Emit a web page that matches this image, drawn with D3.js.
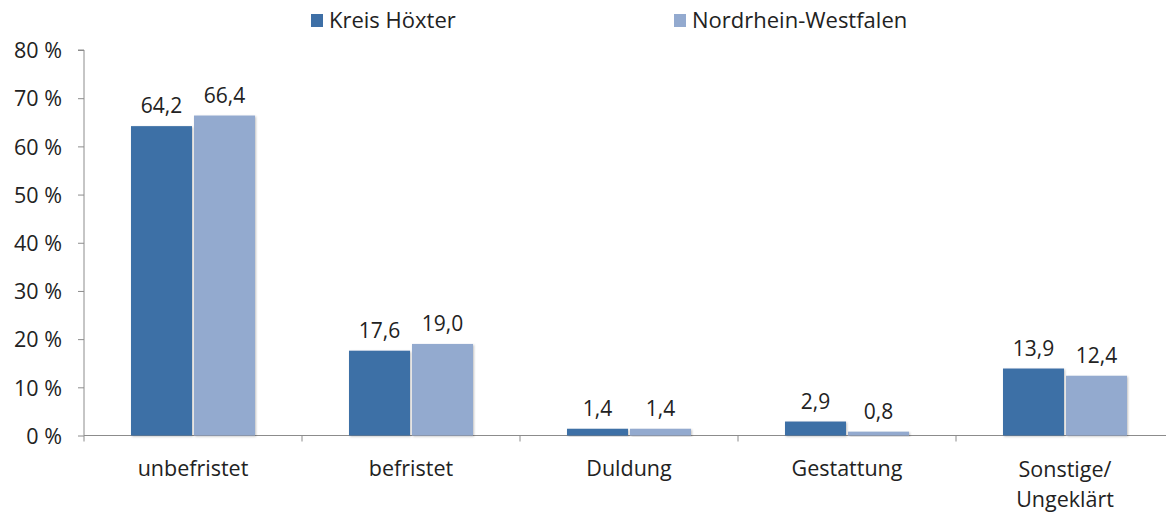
<!DOCTYPE html>
<html>
<head>
<meta charset="utf-8">
<script src="https://cdn.jsdelivr.net/npm/d3@7"></script>
<style>
  body { margin: 0; background: #fff; }
  text { font-family: "Open Sans", "Noto Sans", sans-serif; fill: #222; }
</style>
</head>
<body>
<script>
const categories = ["unbefristet", "befristet", "Duldung", "Gestattung", "Sonstige/\nUngeklärt"]
const seriesNames = ["Kreis Höxter", "Nordrhein-Westfalen"]
const hoexter = [64.2, 17.6, 1.4, 2.9, 13.9]
const nrw = [66.4, 19.0, 1.4, 0.8, 12.4]
const yTicks = [0, 10, 20, 30, 40, 50, 60, 70, 80]
const colors = ["#3E6FA6", "#93AACF"]

const W = 1166, H = 513
const padLeft = 84, padBottom = 435.5, padTop = 50
const catW = 218

const svg = d3.select("body").append("svg")
    .attr("width", W)
    .attr("height", H)

const x = d3.scaleBand().domain(categories).range([padLeft, padLeft + catW * categories.length]).padding(0)
const y = d3.scaleLinear().domain([0, 80]).range([padBottom, padTop])

// y axis
const yAxis = d3.axisLeft(y).tickValues(yTicks).tickSize(6).tickFormat(d => d + " %")
const gy = svg.append("g").attr("transform", "translate(" + padLeft + ",0)").call(yAxis)
gy.select(".domain").attr("stroke", "#8c8c8c").attr("d", "M-6," + padTop + "H0V" + padBottom)
gy.selectAll(".tick line").attr("stroke", "#8c8c8c")
gy.selectAll(".tick text").attr("x", -22).attr("dy", "0.36em").style("font-size", "21.5px").attr("fill", "#222")

// x axis line + boundary ticks
svg.append("line")
    .attr("x1", padLeft).attr("x2", W)
    .attr("y1", padBottom).attr("y2", padBottom)
    .attr("stroke", "#8c8c8c")
svg.selectAll(".xtick")
    .data(categories.concat([null]))
    .enter().append("line")
    .attr("x1", (d, i) => padLeft + i * catW)
    .attr("x2", (d, i) => padLeft + i * catW)
    .attr("y1", padBottom).attr("y2", padBottom + 6)
    .attr("stroke", "#8c8c8c")

const bw = 61
const series = [hoexter, nrw]
const center = c => x(c) + x.bandwidth() / 2

const defs = svg.append("defs")
const f = defs.append("filter").attr("id", "sh").attr("x", "-10%").attr("y", "-10%").attr("width", "130%").attr("height", "130%")
f.append("feDropShadow").attr("dx", 1).attr("dy", 1).attr("stdDeviation", 1.2).attr("flood-color", "#000").attr("flood-opacity", 0.25)

series.forEach((vals, s) => {
    const g = svg.append("g")
    g.selectAll("rect")
        .data(vals)
        .enter().append("rect")
        .attr("x", (d, i) => center(categories[i]) + (s === 0 ? -bw - 1 : 1))
        .attr("y", d => y(d))
        .attr("width", bw)
        .attr("height", d => padBottom - y(d))
        .attr("fill", colors[s])
        .attr("filter", "url(#sh)")
    g.selectAll("text")
        .data(vals)
        .enter().append("text")
        .attr("x", (d, i) => center(categories[i]) + (s === 0 ? -bw / 2 - 1 : bw / 2 + 1))
        .attr("y", d => y(d) - 13)
        .attr("text-anchor", "middle")
        .style("font-size", "21px")
        .text(d => d.toFixed(1).replace(".", ","))
})

// category labels
categories.forEach(c => {
    const lines = c.split("\n")
    const t = svg.append("text")
        .attr("x", center(c))
        .attr("y", lines.length > 1 ? 477 : 476)
        .attr("text-anchor", "middle")
        .style("font-size", "21.5px")
    lines.forEach((l, i) => {
        t.append("tspan").attr("x", center(c)).attr("dy", i === 0 ? 0 : 30).text(l)
    })
})

// legend
const legX = [311, 674]
seriesNames.forEach((n, i) => {
    svg.append("rect").attr("x", legX[i]).attr("y", 14).attr("width", 12).attr("height", 13).attr("fill", colors[i])
    svg.append("text").attr("x", legX[i] + 18).attr("y", 28).style("font-size", "22px").text(n)
})
</script>
</body>
</html>
